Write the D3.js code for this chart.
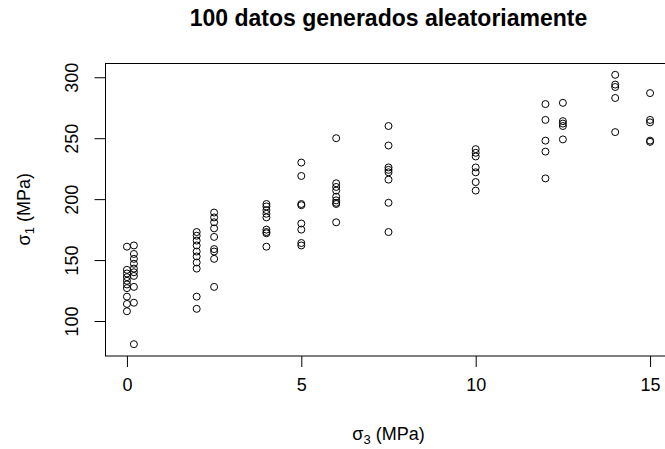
<!DOCTYPE html>
<html>
<head>
<meta charset="utf-8">
<script src="https://cdn.jsdelivr.net/npm/d3@7"></script>
<style>
  body { margin: 0; background: #fff; }
  svg { display: block; font-family: "Liberation Sans", Arial, sans-serif; }
</style>
</head>
<body>
<div id="chart"></div>
<script>
// sigma3 levels (MPa) and the sigma1 values read at each level
var sigma3Levels = [0, 0.2, 2, 2.5, 4, 5, 6, 7.5, 10, 12, 12.5, 14, 15];
var sigma1Groups = [
  [161, 142, 139, 136, 133, 130, 127, 120, 114, 108],
  [162, 155, 151, 147, 143, 140, 137, 128, 115, 81],
  [173, 170, 166, 162, 157, 153, 148, 143, 120, 110],
  [189, 185, 181, 176, 169, 159, 157, 151, 128],
  [196, 194, 191, 188, 185, 175, 173, 172, 161],
  [230, 219, 196, 195, 180, 175, 164, 162],
  [250, 213, 210, 207, 202, 199, 197, 196, 181],
  [260, 244, 226, 224, 222, 216, 197, 173],
  [241, 238, 235, 226, 222, 214, 207],
  [278, 265, 248, 239, 217],
  [279, 264, 262, 260, 249],
  [302, 294, 292, 283, 255],
  [287, 265, 263, 248, 247]
];
var xTicks = [0, 5, 10, 15];
var yTicks = [100, 150, 200, 250, 300];
var title = "100 datos generados aleatoriamente";

var width = 665, height = 449;
var margin = { top: 63, right: -6, bottom: 93.5, left: 106 };

var points = [];
sigma3Levels.forEach(function(lv, i) {
  sigma1Groups[i].forEach(function(v) { points.push({ x: lv, y: v }); });
});

var svg = d3.select("#chart").append("svg")
  .attr("width", width).attr("height", height);

var x = d3.scaleLinear().domain([-0.6, 15.6])
  .range([margin.left, width - margin.right]);
var y = d3.scaleLinear().domain([71.7, 311.7])
  .range([height - margin.bottom, margin.top]);

// points
svg.append("g").selectAll("circle").data(points).enter()
  .append("circle")
  .attr("cx", function(d) { return x(d.x); })
  .attr("cy", function(d) { return y(d.y); })
  .attr("r", 3.5)
  .attr("fill", "none")
  .attr("stroke", "#000")
  .attr("stroke-width", 1);

// box
svg.append("rect")
  .attr("x", margin.left - 0.5).attr("y", margin.top + 0.5)
  .attr("width", x.range()[1] - margin.left)
  .attr("height", y.range()[0] - margin.top)
  .attr("fill", "none").attr("stroke", "#000").attr("stroke-width", 1);

// axes
var xAxis = svg.append("g")
  .attr("transform", "translate(0," + (y.range()[0] + 0.5) + ")")
  .call(d3.axisBottom(x).tickValues(xTicks).tickSize(11).tickPadding(11).tickFormat(d3.format("d")));
xAxis.select(".domain").remove();
xAxis.selectAll("text").attr("font-size", 18).attr("fill", "#000").attr("font-family", "Liberation Sans, Arial, sans-serif");

var yAxis = svg.append("g")
  .attr("transform", "translate(" + (margin.left - 0.5) + ",0)")
  .call(d3.axisLeft(y).tickValues(yTicks).tickSize(11).tickFormat(d3.format("d")));
yAxis.select(".domain").remove();
yAxis.selectAll("text")
  .attr("font-size", 18).attr("fill", "#000")
  .attr("font-family", "Liberation Sans, Arial, sans-serif")
  .attr("x", null).attr("dy", null)
  .attr("text-anchor", "middle")
  .attr("transform", "translate(-27.5,0) rotate(-90)");
svg.selectAll(".tick line").attr("stroke", "#000");

// title
svg.append("text")
  .attr("x", (margin.left + x.range()[1]) / 2).attr("y", 26)
  .attr("text-anchor", "middle")
  .attr("font-size", 23).attr("font-weight", "bold")
  .text(title);

// x label: sigma_3 (MPa)
var xl = svg.append("text")
  .attr("x", (margin.left + x.range()[1]) / 2).attr("y", 440)
  .attr("text-anchor", "middle").attr("font-size", 18);
xl.append("tspan").text("σ");
xl.append("tspan").attr("font-size", 13).attr("dy", 4).text("3");
xl.append("tspan").attr("dy", -4).text(" (MPa)");

// y label: sigma_1 (MPa)
var cy = (margin.top + y.range()[0]) / 2;
var yl = svg.append("text")
  .attr("transform", "translate(30," + cy + ") rotate(-90)")
  .attr("text-anchor", "middle").attr("font-size", 18);
yl.append("tspan").text("σ");
yl.append("tspan").attr("font-size", 13).attr("dy", 4).text("1");
yl.append("tspan").attr("dy", -4).text(" (MPa)");
</script>
</body>
</html>
